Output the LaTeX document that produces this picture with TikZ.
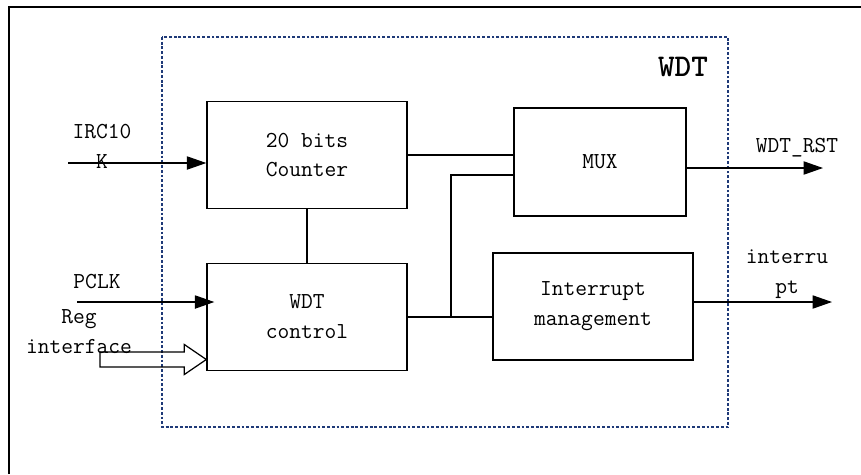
\documentclass[tikz,border=0pt]{standalone}
\usetikzlibrary{arrows.meta,calc}
\definecolor{bg}{HTML}{FFFFFF}
\definecolor{ink}{HTML}{000000}
\definecolor{frame}{HTML}{1F3A78}

\begin{document}
\begin{tikzpicture}[x=0.02cm,y=-0.02cm,line cap=butt,line join=miter,
  blockbox/.style={draw=ink,line width=0.8pt,minimum width=4cm,minimum height=2.14cm,
    align=center,font=\ttfamily\fontsize{13}{17}\selectfont,inner sep=0pt},
  wire/.style={ink,line width=0.7pt},
  sig/.style={-{Triangle[length=11pt,width=7.5pt]},line width=0.7pt,ink},
  lbl/.style={font=\ttfamily\fontsize{13}{17}\selectfont,align=center,inner sep=0pt}]
  \useasboundingbox (0,0) rectangle (861,474);
  \fill[bg] (0,0) rectangle (861,474);
  % outer frame (only top and left edges are inside the page)
  \draw[ink,line width=1.1pt] (9,474) -- (9,7) -- (861,7);

  % ---- WDT block border (dotted blue) ----
  \draw[frame,line width=0.7pt,dash pattern=on 1.6pt off 1.1pt] (162,37) rectangle (728,427);
  \node[font=\ttfamily\bfseries\fontsize{18}{20}\selectfont,inner sep=0pt] (title) at (683,67) {WDT};

  % ---- blocks ----
  \node[blockbox] (cnt) at (307,155) {20 bits\\Counter};
  \node[blockbox] (ctrl) at (307,317) {WDT\\control};
  \node[blockbox,minimum width=3.44cm,minimum height=2.16cm] (mux) at (600,162) {MUX};
  \node[blockbox] (intm) at (593,306.5) {Interrupt\\management};

  % ---- internal wiring ----
  \draw[wire] (cnt.east) -- (cnt.east -| mux.west);
  \draw[wire] (cnt.south) -- (ctrl.north);
  \coordinate (jn) at (451,317);
  \coordinate (jt) at (451,175);
  \draw[wire] (ctrl.east) -- (jn) -- (jn -| intm.west);
  \draw[wire] (jn) -- (jt) -- (jt -| mux.west);

  % ---- inputs ----
  \coordinate (irc) at (68,163);
  \draw[sig] (irc) -- (irc -| cnt.west);
  \node[lbl] (ircl) at (102,146) {IRC10\\K};

  \coordinate (pclk) at (77,302);
  \draw[sig] (pclk) -- ($(pclk -| ctrl.west)+(8,0)$);
  \node[lbl] (pclkl) at (97,282) {PCLK};

  % hollow bus arrow for the register interface
  \coordinate (regin) at (100,359.5);
  \coordinate (regtip) at (regin -| ctrl.west);
  \draw[ink,line width=0.7pt] ($(regin)+(0,-7.5)$) -- ($(regtip)+(-22,-7.5)$) -- ($(regtip)+(-22,-15)$)
    -- (regtip) -- ($(regtip)+(-22,15)$) -- ($(regtip)+(-22,7.5)$) -- ($(regin)+(0,7.5)$) -- cycle;
  \node[lbl] (regl) at (79,332) {Reg\\interface};

  % ---- outputs ----
  \coordinate (rst) at (823,168);
  \draw[sig] (rst -| mux.east) -- (rst);
  \node[lbl] (rstl) at (797,148) {WDT\_RST};

  \coordinate (irq) at (832,302);
  \draw[sig] (irq -| intm.east) -- (irq);
  \node[lbl] (irql) at (787,274) {interru\\pt};
\end{tikzpicture}
\end{document}
